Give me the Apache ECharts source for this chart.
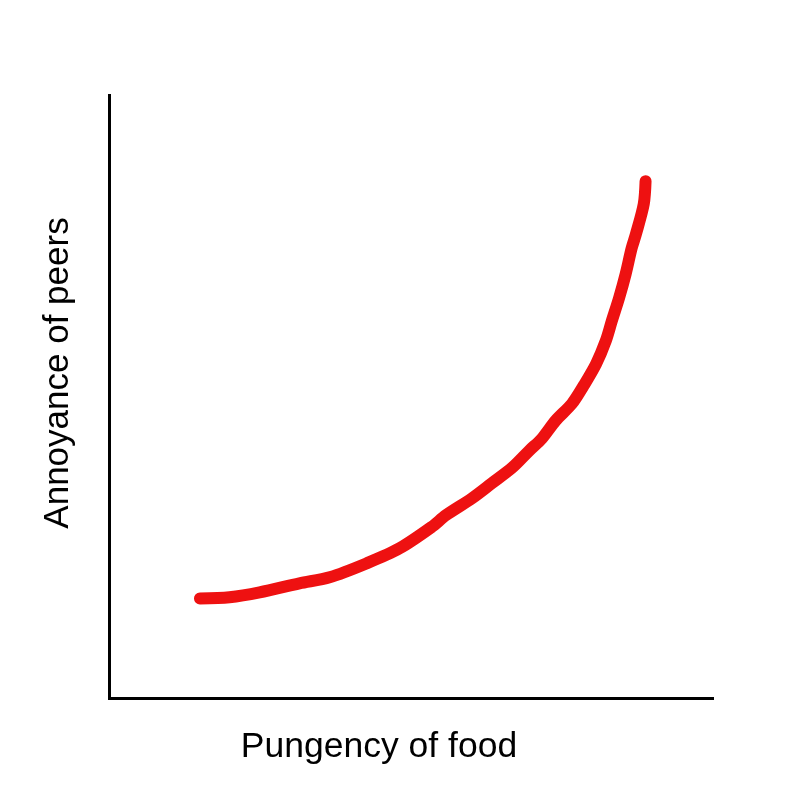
<!DOCTYPE html>
<html>
<head>
<meta charset="utf-8">
<script src="https://cdn.jsdelivr.net/npm/echarts@6/dist/echarts.min.js"></script>
<style>
html,body{margin:0;padding:0;background:#fff;}
#chart{width:800px;height:800px;}
</style>
</head>
<body>
<div id="chart"></div>
<script>
const xLabel = 'Pungency of food';
const yLabel = 'Annoyance of peers';
const pungency = [15.0, 19.9, 24.9, 31.5, 36.5, 42.6, 48.1, 53.5, 55.8, 60.1, 63.4, 66.8, 69.6, 71.7, 74.0, 76.7, 78.7, 80.7, 82.3, 83.3, 84.5, 85.6, 86.6, 87.3, 88.6, 88.9];
const annoyance = [16.6, 16.8, 17.6, 19.1, 20.1, 22.4, 24.9, 28.5, 30.4, 33.2, 35.7, 38.3, 41.1, 43.1, 46.1, 48.9, 52.0, 55.5, 59.3, 62.6, 66.4, 70.4, 74.7, 77.0, 82.0, 85.8];

const data = pungency.map((x, i) => [x, annoyance[i]]);
const chart = echarts.init(document.getElementById('chart'), null, {renderer: 'canvas'});
const axisCommon = {
  type: 'value', min: 0, max: 100,
  axisLine: {show: true, lineStyle: {color: '#000', width: 3, cap: 'square'}},
  axisTick: {show: false}, axisLabel: {show: false}, splitLine: {show: false}
};
chart.setOption({
  backgroundColor: '#fff',
  animation: false,
  grid: {left: 109.5, right: 87.5, top: 95.5, bottom: 101.5},
  xAxis: Object.assign({}, axisCommon),
  yAxis: Object.assign({}, axisCommon),
  graphic: [
    {type: 'text', x: 379, y: 747, style: {text: xLabel, font: '35.5px "Liberation Sans", Arial, sans-serif', fill: '#000', textAlign: 'center', textVerticalAlign: 'middle'}},
    {type: 'text', x: 58, y: 373, rotation: Math.PI / 2, style: {text: yLabel, font: '35px "Liberation Sans", Arial, sans-serif', fill: '#000', textAlign: 'center', textVerticalAlign: 'middle'}}
  ],
  series: [{
    type: 'line', data: data, smooth: 0.3, showSymbol: false,
    lineStyle: {color: '#ee1111', width: 12, cap: 'round', join: 'round'}
  }]
});
</script>
</body>
</html>
